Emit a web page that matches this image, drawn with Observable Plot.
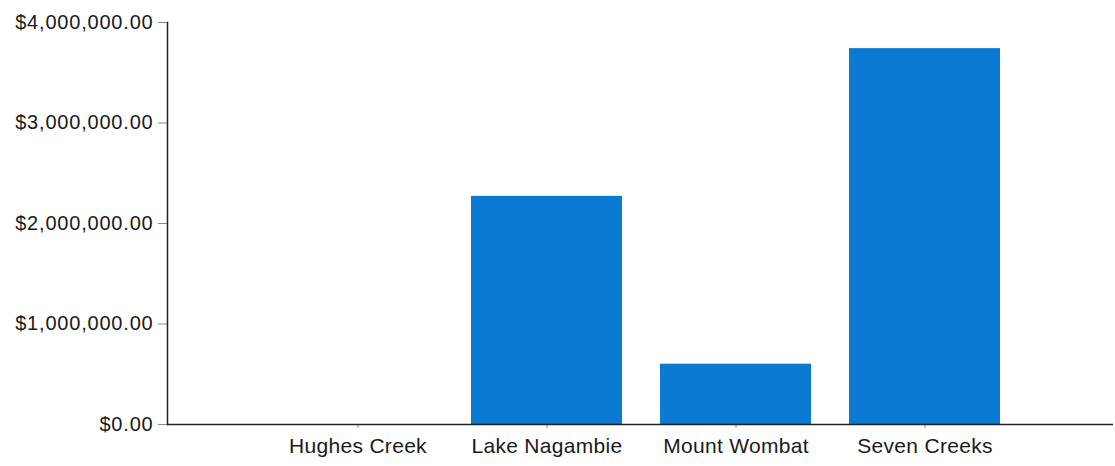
<!DOCTYPE html>
<html>
<head>
<meta charset="utf-8">
<script src="https://cdn.jsdelivr.net/npm/d3@7"></script>
<script src="https://cdn.jsdelivr.net/npm/@observablehq/plot@0.6"></script>
<style>
  html, body { margin: 0; padding: 0; background: #fff; }
  #chart svg { display: block; }
  #chart g[aria-label="y-axis tick label"] text { letter-spacing: 0.8px; }
  #chart g[aria-label="x-axis tick label"] text { letter-spacing: 0.3px; }
</style>
</head>
<body>
<div id="chart"></div>
<script>
// Funding by site
const sites = ["Hughes Creek", "Lake Nagambie", "Mount Wombat", "Seven Creeks"];
const amounts = [0, 2270000, 600000, 3740000];
const yTicks = [0, 1000000, 2000000, 3000000, 4000000];

const data = sites.map((site, i) => ({site, amount: amounts[i]}));
const money = d3.format("$,.2f");

const chart = Plot.plot({
  width: 1115,
  height: 466,
  marginLeft: 167,
  marginRight: 2,
  marginTop: 22,
  marginBottom: 42,
  style: {fontFamily: "'Liberation Sans', Arial, sans-serif", color: "#1a1a1a", background: "#fff"},
  x: {domain: sites, range: [244.6, 1038.4], padding: 0.2, label: null},
  y: {domain: [0, 4000000], label: null},
  marks: [
    Plot.barY(data, {x: "site", y: "amount", fill: "#0a7ad2"}),
    Plot.axisY({
      ticks: yTicks,
      tickFormat: money,
      tickSize: 9,
      tickPadding: 5,
      fontSize: 20,
      stroke: "#888",
      fill: "#1a1a1a"
    }),
    Plot.axisX({
      tickSize: 4,
      tickPadding: 10,
      fontSize: 21,
      stroke: "#888",
      fill: "#1a1a1a"
    }),
    Plot.frame({anchor: "left", stroke: "#222", strokeWidth: 1.5}),
    Plot.ruleY([0], {stroke: "#222", strokeWidth: 1.5})
  ]
});

document.getElementById("chart").appendChild(chart);
</script>
</body>
</html>
